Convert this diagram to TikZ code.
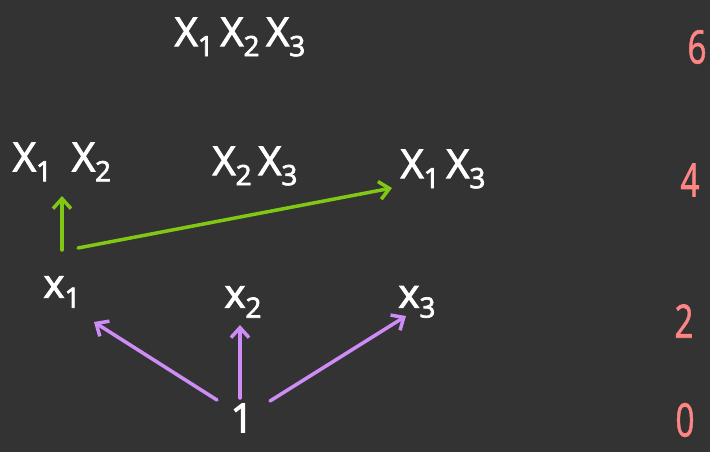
\documentclass[tikz,border=0pt]{standalone}
\usepackage{fontspec}
\setmainfont{Open Sans}[BoldFont={Open Sans},BoldFeatures={FakeBold=2.5}]
\newfontfamily\numfont{Open Sans}[FakeBold=1.5]
\usetikzlibrary{arrows.meta}
\definecolor{bg}{RGB}{51,51,51}
\definecolor{grn}{RGB}{128,200,20}
\definecolor{prp}{RGB}{206,140,246}
\definecolor{lbl}{RGB}{255,132,132}
\newcommand\Xb[1]{X\raisebox{-10pt}{\fontsize{28}{28}\selectfont #1}}
\newcommand\xs[1]{\fontsize{40}{40}\selectfont x\raisebox{-10pt}{\fontsize{28}{28}\selectfont #1}}
\begin{document}
\begin{tikzpicture}[x=1pt,y=-1pt,
  term/.style={text=white,inner sep=0pt,font=\bfseries\fontsize{40}{42}\selectfont},
  deg/.style={text=lbl,inner sep=0pt,font=\numfont\fontsize{46}{48}\selectfont,xscale=0.72},
  garr/.style={draw=grn,line width=3.5pt,line cap=round,-{Straight Barb[length=10pt,width=18pt,line width=3.5pt]}},
  parr/.style={draw=prp,line width=3.5pt,line cap=round,-{Straight Barb[length=10pt,width=18pt,line width=3.5pt]}}]
\fill[bg] (0,0) rectangle (710,452);
\useasboundingbox (0,0) rectangle (710,452);
% terms
\node[term] (t123) at (240,37) {\Xb{1}\,\Xb{2}\,\Xb{3}};
\node[term] (t12) at (62,162) {\Xb{1}\enspace\Xb{2}};
\node[term] (t23) at (255,166) {\Xb{2}\,\Xb{3}};
\node[term] (t13) at (443,169) {\Xb{1}\,\Xb{3}};
\node[term] (x1) at (62,292) {\xs{1}};
\node[term] (x2) at (243,302) {\xs{2}};
\node[term] (x3) at (417,302) {\xs{3}};
\node[term] (one) at (242,418) {1};
% degrees
\node[deg] (d6) at (697,47) {6};
\node[deg] (d4) at (690,180) {4};
\node[deg] (d2) at (684,321) {2};
\node[deg] (d0) at (685,420) {0};
% arrow end points
\coordinate (a1s) at (62,250); \coordinate (a1e) at (62,196);
\coordinate (a2s) at (78,248); \coordinate (a2e) at (392,188);
\coordinate (b1s) at (217,400); \coordinate (b1e) at (94,322);
\coordinate (b2s) at (240,398); \coordinate (b2e) at (240,325);
\coordinate (b3s) at (270,401); \coordinate (b3e) at (406,316);
\draw[garr] (a1s) -- (a1e);
\draw[garr] (a2s) -- (a2e);
\draw[parr] (b1s) -- (b1e);
\draw[parr] (b2s) -- (b2e);
\draw[parr] (b3s) -- (b3e);
\end{tikzpicture}
\end{document}
